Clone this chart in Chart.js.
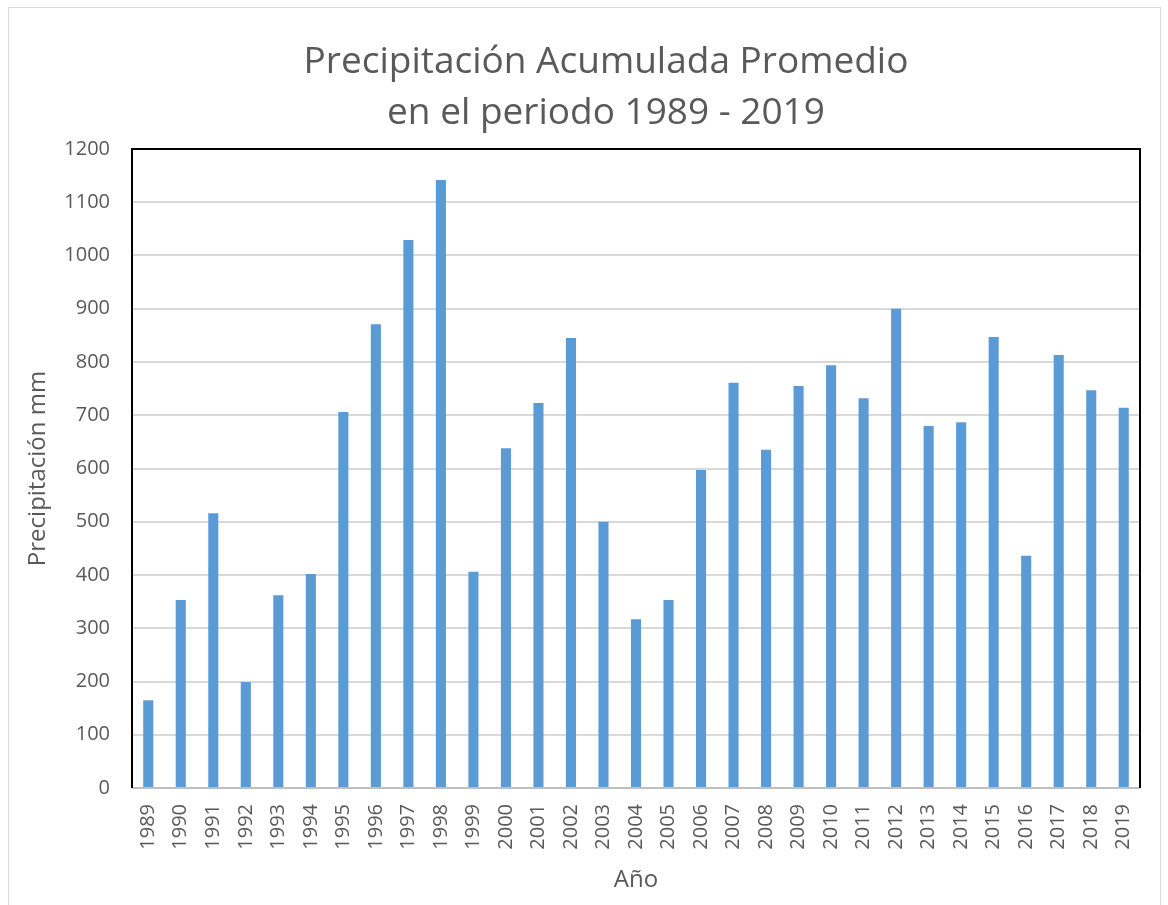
<!DOCTYPE html>
<html>
<head>
<meta charset="utf-8">
<script src="https://cdn.jsdelivr.net/npm/chart.js@4.4.1/dist/chart.umd.min.js"></script>
<style>
  html, body { margin: 0; padding: 0; background: #ffffff; }
  #wrap { width: 1168px; height: 905px; position: relative; }
</style>
</head>
<body>
<div id="wrap"><canvas id="c" width="1168" height="905"></canvas></div>
<script>
const years = ['1989','1990','1991','1992','1993','1994','1995','1996','1997','1998','1999','2000','2001','2002','2003','2004','2005','2006','2007','2008','2009','2010','2011','2012','2013','2014','2015','2016','2017','2018','2019'];
const precipitation = [165, 353, 516, 199, 362, 402, 706, 871, 1029, 1142, 406, 638, 723, 845, 500, 317, 353, 597, 761, 635, 755, 794, 732, 900, 680, 687, 847, 436, 813, 747, 714];
const titleLines = ['Precipitación Acumulada Promedio', 'en el periodo 1989 - 2019'];
const yAxisTitle = 'Precipitación mm';
const xAxisTitle = 'Año';
const yMin = 0, yMax = 1200, yStep = 100;

const textColor = '#595959';
const fontFamily = "'Open Sans', 'DejaVu Sans', sans-serif";

const framePlugin = {
  id: 'frame',
  beforeDraw(chart) {
    const ctx = chart.ctx;
    ctx.save();
    ctx.fillStyle = '#ffffff';
    ctx.fillRect(0, 0, chart.width, chart.height);
    ctx.strokeStyle = '#d9d9d9';
    ctx.lineWidth = 1;
    ctx.strokeRect(8.5, 7.5, 1152, 910);
    // chart title (two lines)
    ctx.fillStyle = textColor;
    ctx.font = "37px " + fontFamily;
    ctx.textAlign = 'center';
    ctx.textBaseline = 'alphabetic';
    const cx = 606;
    ctx.fillText(titleLines[0], cx, 73);
    ctx.fillText(titleLines[1], cx, 124);
    ctx.restore();
  },
  afterDatasetsDraw(chart) {
    const {left, right, top, bottom} = chart.chartArea;
    const ctx = chart.ctx;
    ctx.save();
    ctx.strokeStyle = '#bfbfbf';
    ctx.lineWidth = 2;
    ctx.beginPath();
    ctx.moveTo(left, bottom);
    ctx.lineTo(right, bottom);
    ctx.stroke();
    ctx.strokeStyle = '#000000';
    ctx.lineWidth = 2;
    ctx.beginPath();
    ctx.moveTo(left, bottom);
    ctx.lineTo(left, top);
    ctx.lineTo(right, top);
    ctx.lineTo(right, bottom);
    ctx.stroke();
    ctx.restore();
  }
};

new Chart(document.getElementById('c'), {
  type: 'bar',
  data: {
    labels: years,
    datasets: [{
      label: yAxisTitle,
      data: precipitation,
      backgroundColor: '#5b9bd5',
      borderWidth: 0,
      categoryPercentage: 1.0,
      barPercentage: 0.31
    }]
  },
  options: {
    responsive: false,
    animation: false,
    devicePixelRatio: 1,
    layout: { padding: { left: 20, right: 28, top: 149, bottom: 10 } },
    plugins: {
      legend: { display: false },
      tooltip: { enabled: false },
      title: { display: false }
    },
    scales: {
      x: {
        grid: { display: false, drawTicks: false },
        border: { display: false },
        ticks: {
          color: textColor,
          font: { family: fontFamily, size: 20 },
          maxRotation: 90,
          minRotation: 90,
          autoSkip: false,
          padding: 16
        },
        title: {
          display: true,
          text: xAxisTitle,
          color: textColor,
          font: { family: fontFamily, size: 24 },
          padding: { top: 0, bottom: 0 }
        },
        afterFit(scale) { scale.height = 107; }
      },
      y: {
        min: yMin,
        max: yMax,
        grid: { color: '#d9d9d9', lineWidth: 2, drawTicks: false },
        border: { display: false },
        ticks: {
          stepSize: yStep,
          color: textColor,
          font: { family: fontFamily, size: 20 },
          padding: 22,
          callback: (v) => String(v)
        },
        title: {
          display: true,
          text: yAxisTitle,
          color: textColor,
          font: { family: fontFamily, size: 24 },
          padding: { top: 4, bottom: 0 }
        },
        afterFit(scale) { scale.width = 112; }
      }
    }
  },
  plugins: [framePlugin]
});
</script>
</body>
</html>
